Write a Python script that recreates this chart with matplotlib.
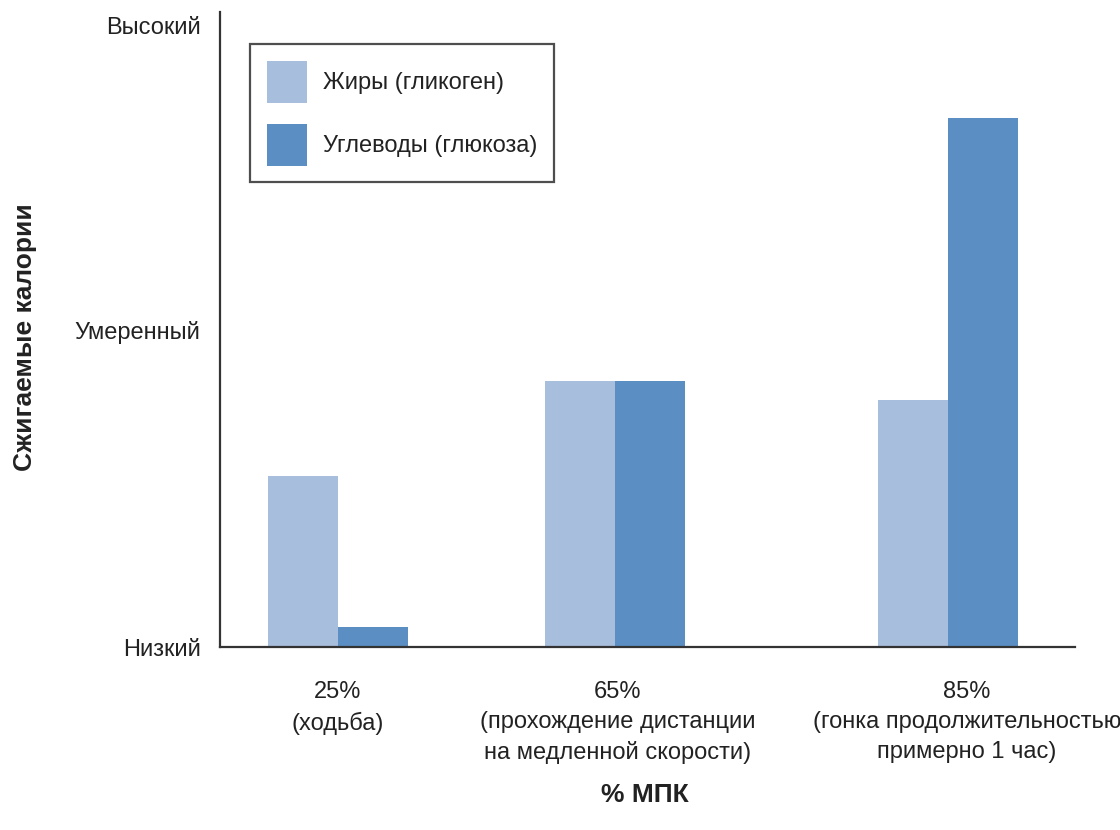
import matplotlib
matplotlib.use("Agg")
import matplotlib.pyplot as plt
from matplotlib.patches import Patch

plt.rcParams['font.family'] = ['Liberation Sans', 'DejaVu Sans']

categories = ["25%\n(ходьба)",
              "65%\n(прохождение дистанции\nна медленной скорости)",
              "85%\n(гонка продолжительностью\nпримерно 1 час)"]
fat = [2.75, 4.28, 3.97]
carb = [0.32, 4.28, 8.5]
series_names = ["Жиры (гликоген)", "Углеводы (глюкоза)"]
ytick_vals = [0, 5.1, 10]
ytick_labels = ["Низкий", "Умеренный", "Высокий"]

c_fat = "#A7BEDD"
c_carb = "#5B8FC3"

fig = plt.figure(figsize=(11.2, 8.3), dpi=100)
ax = fig.add_axes([220/1120, 183/830, 855/1120, (647-12)/830])

pos = [0, 1, 2.2]
w = 0.2527
ax.bar([p - w/2 for p in pos], fat, width=w, color=c_fat, label=series_names[0])
ax.bar([p + w/2 for p in pos], carb, width=w, color=c_carb, label=series_names[1])

ax.set_xlim(-0.426, 2.66)
ax.set_ylim(0, 10.21)
ax.set_yticks(ytick_vals)
ax.set_yticklabels(ytick_labels, fontsize=17, color="#222222")
ax.tick_params(axis='y', length=0, pad=14)
ax.set_xticks([])
for s in ['top', 'right']:
    ax.spines[s].set_visible(False)
for s in ['left', 'bottom']:
    ax.spines[s].set_linewidth(1.6)
    ax.spines[s].set_color("#333333")

offsets = [0, 0.01, 0.07]
for p, o, lab in zip(pos, offsets, categories):
    ax.text(p + o, -0.55, lab, ha='center', va='top', fontsize=17,
            linespacing=1.45, color="#222222", clip_on=False)

fig.text(645/1120, 1 - 795/830, "% МПК", ha='center', va='center',
         fontsize=19, fontweight='bold', color="#222222")
fig.text(25/1120, 1 - 337/830, "Сжигаемые калории", ha='center', va='center',
         rotation=90, fontsize=19, fontweight='bold', color="#222222")

handles = [Patch(facecolor=c_fat, edgecolor='none'), Patch(facecolor=c_carb, edgecolor='none')]
leg = ax.legend(handles, series_names, loc='upper left',
                bbox_to_anchor=((250-220)/855, (647-44)/635),
                fontsize=17, frameon=True, fancybox=False, edgecolor="#222222",
                handlelength=1.7, handleheight=2.36, handletextpad=0.68,
                labelspacing=0.89, borderpad=0.7, borderaxespad=0)
leg.get_frame().set_linewidth(1.6)
for t in leg.get_texts():
    t.set_color("#222222")

fig.savefig("out.png", dpi=100)
